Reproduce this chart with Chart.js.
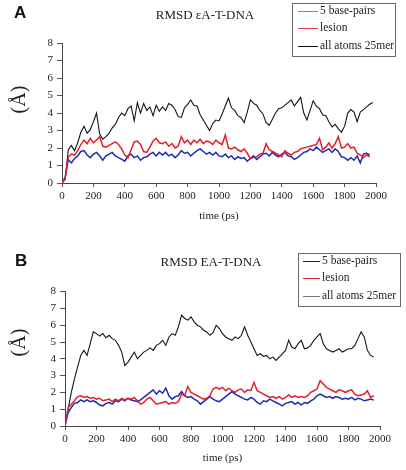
<!DOCTYPE html>
<html>
<head>
<meta charset="utf-8">
<script src="https://cdn.jsdelivr.net/npm/chart.js@4/dist/chart.umd.min.js"></script>
<style>
  body { margin: 0; background: #fff; }
  #wrap { position: relative; width: 406px; height: 470px; font-family: 'Liberation Serif', serif; color: #222; }
  canvas { position: absolute; left: 0; }
  .letter { position: absolute; font: bold 17px 'Liberation Sans', sans-serif; color: #111; }
  .ylab { position: absolute; width: 40px; text-align: center; font-size: 20px; transform: rotate(-90deg); }
  .legend { position: absolute; border: 1px solid #666; height: 52px; font-size: 11.5px; }
  .row { position: absolute; left: 0; white-space: nowrap; }
  .row span { display: inline-block; vertical-align: middle; height: 1px; margin-right: 2px; }
</style>
</head>
<body>
<div id="wrap">
  <canvas id="chart_a" width="406" height="230" style="top:0"></canvas>
  <canvas id="chart_b" width="406" height="240" style="top:230px"></canvas>
  <div class="letter" style="left:14px;top:3px">A</div>
  <div class="letter" style="left:15px;top:251px">B</div>
  <div class="ylab" style="left:-2px;top:88px">(Å)</div>
  <div class="ylab" style="left:-2px;top:331px">(Å)</div>
  <div class="legend" id="legend_a" style="left:292px;top:3px;width:102px"></div>
  <div class="legend" id="legend_b" style="left:298px;top:253px;width:101px"></div>
</div>
<script>
// time axis (ps)
var time = [0,20,40,60,80,100,120,140,160,180,200,220,240,260,280,300,320,340,360,380,
  400,420,440,460,480,500,520,540,560,580,600,620,640,660,680,700,720,740,760,780,
  800,820,840,860,880,900,920,940,960,980,1000,1020,1040,1060,1080,1100,1120,1140,1160,1180,
  1200,1220,1240,1260,1280,1300,1320,1340,1360,1380,1400,1420,1440,1460,1480,1500,1520,1540,1560,1580,
  1600,1620,1640,1660,1680,1700,1720,1740,1760,1780,1800,1820,1840,1860,1880,1900,1920,1940,1960,1980];

var seriesLabels = ['5 base-pairs', 'lesion', 'all atoms 25mer'];

// panel A: RMSD εA-T-DNA
var aBase = [0,0.3,1.35,1.15,1.4,1.55,1.8,1.85,1.6,1.45,
  1.65,1.75,1.55,1.3,1.55,1.65,1.75,1.55,1.45,1.35,
  1.25,1.55,1.65,1.45,1.55,1.3,1.45,1.5,1.65,1.75,
  1.55,1.75,1.6,1.75,1.55,1.65,1.45,1.6,1.85,1.7,
  1.75,1.55,1.7,1.85,1.95,1.8,1.65,1.75,1.6,1.75,
  1.55,1.5,1.65,1.45,1.55,1.35,1.5,1.4,1.45,1.25,
  1.4,1.55,1.35,1.5,1.65,1.7,1.55,1.75,1.6,1.5,
  1.65,1.75,1.55,1.5,1.35,1.45,1.6,1.75,1.8,1.95,
  1.85,2.05,1.9,1.75,1.85,1.95,1.75,1.95,1.8,1.5,
  1.45,1.3,1.45,1.3,1.55,1.15,1.65,1.7,1.6];
var aLesion = [0,0.3,1.5,1.65,1.6,1.85,2.2,2.45,2.25,2.55,
  2.3,2.45,2.65,2.1,2.05,2.15,2.25,2.35,2.2,1.95,
  1.6,1.45,1.9,2.35,2.4,2.2,1.8,1.75,2.05,2.4,
  2.55,2.3,2.25,2.35,2.1,2.25,2.0,2.1,2.65,2.3,
  2.45,2.2,2.45,2.3,2.5,2.25,2.4,2.35,2.2,2.45,
  2.3,2.2,2.75,2.0,1.95,2.05,1.9,1.8,1.95,1.7,
  1.4,1.45,1.5,1.65,1.7,2.25,1.9,1.8,1.7,1.6,
  1.5,1.85,1.7,1.6,1.75,1.8,1.95,2.0,2.05,2.1,
  2.15,2.2,2.55,1.9,2.05,2.3,2.0,2.25,2.65,2.0,
  2.05,2.25,2.0,2.05,1.7,1.6,1.45,1.6,1.5];
var aAll = [0,0.2,1.9,2.15,1.85,2.3,2.9,3.25,2.85,3.05,
  3.5,4.0,2.8,2.5,2.65,2.85,3.15,3.35,3.75,4.0,
  3.85,4.25,4.4,3.55,4.6,4.0,4.55,4.15,4.35,3.85,
  4.45,4.1,4.35,4.15,4.55,4.45,4.2,3.8,3.75,4.3,
  4.5,4.75,4.45,4.4,3.9,3.6,3.3,3.0,3.4,3.6,
  3.55,3.95,4.4,4.85,4.3,4.15,3.85,3.75,3.45,4.05,
  4.75,4.55,4.45,4.15,3.95,3.45,3.3,3.65,4.0,4.25,
  4.3,4.45,4.6,4.75,4.4,4.65,4.9,4.0,3.6,4.15,
  4.7,4.4,4.25,3.9,3.85,3.5,3.2,3.35,3.1,2.9,
  3.25,4.0,4.2,4.05,3.5,4.05,4.2,4.35,4.5,4.6];

// panel B: RMSD EA-T-DNA
var bBase = [0,0.8,1.1,1.35,1.4,1.55,1.45,1.55,1.45,1.5,
  1.4,1.25,1.2,1.35,1.4,1.3,1.5,1.45,1.6,1.5,
  1.65,1.55,1.5,1.45,1.55,1.7,1.85,2.0,2.15,1.9,
  2.1,1.95,2.25,1.8,1.6,1.75,1.8,2.05,1.8,1.7,
  1.75,1.6,1.5,1.3,1.45,1.6,1.75,1.6,1.5,1.45,
  1.6,1.75,1.9,2.05,1.9,1.8,1.7,1.6,1.55,1.7,
  1.6,1.4,1.3,1.5,1.45,1.6,1.5,1.4,1.3,1.2,
  1.35,1.4,1.45,1.3,1.4,1.25,1.4,1.35,1.5,1.6,
  1.8,1.9,1.8,1.7,1.75,1.65,1.75,1.7,1.6,1.65,
  1.6,1.7,1.55,1.65,1.6,1.5,1.55,1.6,1.55];
var bLesion = [0,1.1,1.3,1.5,1.75,1.8,1.7,1.75,1.65,1.7,
  1.6,1.65,1.5,1.55,1.6,1.45,1.6,1.5,1.65,1.55,
  1.65,1.6,1.7,1.5,1.3,1.4,1.6,1.7,1.5,1.3,
  1.35,1.4,1.45,1.3,1.4,1.35,1.45,1.9,1.8,2.35,
  2.0,1.9,1.8,1.7,1.6,1.65,1.8,2.2,2.3,2.2,
  2.3,2.1,2.25,2.1,2.0,2.15,2.2,2.0,2.15,2.1,
  2.6,2.1,2.0,1.9,1.8,1.7,1.75,1.65,1.75,1.6,
  1.7,1.85,1.7,1.8,1.7,1.75,1.7,1.8,2.0,2.1,
  2.2,2.7,2.5,2.3,2.2,2.1,2.0,2.15,2.1,2.0,
  2.1,2.15,1.9,1.8,1.85,1.9,2.1,1.7,1.8];
var bAll = [0,1.0,2.0,2.8,3.5,4.2,4.5,4.2,4.9,5.6,
  5.5,5.35,5.5,5.25,5.4,5.2,5.1,4.8,4.4,3.6,
  3.8,4.1,4.4,4.0,4.2,4.4,4.5,4.65,4.5,4.8,
  4.9,5.1,4.8,5.3,5.5,5.4,5.9,6.6,6.4,6.3,
  6.5,6.2,6.0,5.9,5.7,5.6,5.4,5.55,6.0,5.8,
  5.5,5.3,5.2,5.1,5.3,5.2,5.4,5.9,5.4,5.0,
  4.6,4.2,4.3,4.15,4.2,4.0,4.1,3.9,4.1,4.3,
  4.5,5.1,4.7,4.6,4.9,5.1,4.6,4.65,4.8,5.1,
  5.3,5.5,4.9,4.6,4.5,4.4,4.5,4.6,4.4,4.5,
  4.6,4.6,4.8,5.2,5.6,5.3,4.5,4.2,4.1];

var lineColors = ['#1b2db0', '#e3202a', '#151515'];
var legendColors_a = ['#7382b0', '#e0405a', '#111111'];
var legendColors_b = ['#1a1f55', '#d8203c', '#777777'];

var serif = "'Liberation Serif', 'Times New Roman', serif";

function makeConfig(title, values, opts) {
  return {
    type: 'line',
    data: {
      labels: time,
      datasets: [
        { label: seriesLabels[0], data: values[0], borderColor: lineColors[0], borderWidth: 1.5, order: 1 },
        { label: seriesLabels[1], data: values[1], borderColor: lineColors[1], borderWidth: 1.5, order: 0 },
        { label: seriesLabels[2], data: values[2], borderColor: lineColors[2], borderWidth: 1.1, order: 2 }
      ]
    },
    options: {
      responsive: false,
      animation: false,
      elements: { point: { radius: 0 }, line: { tension: 0 } },
      layout: { padding: { left: opts.padLeft, right: opts.padRight, top: 0, bottom: 0 } },
      plugins: {
        legend: { display: false },
        tooltip: { enabled: false },
        title: {
          display: true,
          text: title,
          color: '#222',
          font: { family: serif, size: 13, weight: 'normal' },
          padding: { top: opts.titleTop, bottom: opts.titleBottom }
        }
      },
      scales: {
        x: {
          type: 'linear',
          min: 0,
          max: 2000,
          ticks: {
            stepSize: 200, padding: 3, color: '#222', font: { family: serif, size: 11 },
            callback: function(v) { return String(v); }
          },
          grid: { drawOnChartArea: false, drawTicks: true, tickLength: 4, color: '#555' },
          border: { color: '#444' },
          title: { display: true, text: 'time (ps)', color: '#222', font: { family: serif, size: 11 }, padding: { top: 0, bottom: opts.xTitleBottom } },
          afterFit: function(scale) { scale.height = opts.xHeight; }
        },
        y: {
          min: 0,
          max: 8,
          ticks: { stepSize: 1, padding: 4, color: '#222', font: { family: serif, size: 11 } },
          grid: { drawOnChartArea: false, drawTicks: true, tickLength: 5, color: '#555' },
          border: { color: '#444' },
          afterFit: function(scale) { scale.width = opts.yWidth; }
        }
      }
    }
  };
}

function fillLegend(id, colors, left, sample) {
  var box = document.getElementById(id);
  var tops = [0, 17, 35];
  for (var i = 0; i < seriesLabels.length; i++) {
    var row = document.createElement('div');
    row.className = 'row';
    row.style.top = tops[i] + 'px';
    row.style.left = left + 'px';
    row.innerHTML = '<span style="width:' + sample + 'px;background:' + colors[i] + '"></span>' + seriesLabels[i];
    box.appendChild(row);
  }
}

window.onload = function() {
  var a_ctx = document.getElementById('chart_a').getContext('2d');
  var a_chart = new Chart(a_ctx, makeConfig('RMSD εA-T-DNA', [aBase, aLesion, aAll],
    { padLeft: 34, padRight: 30, yWidth: 28, xHeight: 47, titleTop: 7.5, titleBottom: 20, xTitleBottom: 7.4 }));

  var b_ctx = document.getElementById('chart_b').getContext('2d');
  var b_chart = new Chart(b_ctx, makeConfig('RMSD EA-T-DNA', [bBase, bLesion, bAll],
    { padLeft: 42, padRight: 26, yWidth: 23, xHeight: 44, titleTop: 25, titleBottom: 21, xTitleBottom: 5.4 }));

  fillLegend('legend_a', legendColors_a, 5, 20);
  fillLegend('legend_b', legendColors_b, 4, 17);
};
</script>
</body>
</html>
